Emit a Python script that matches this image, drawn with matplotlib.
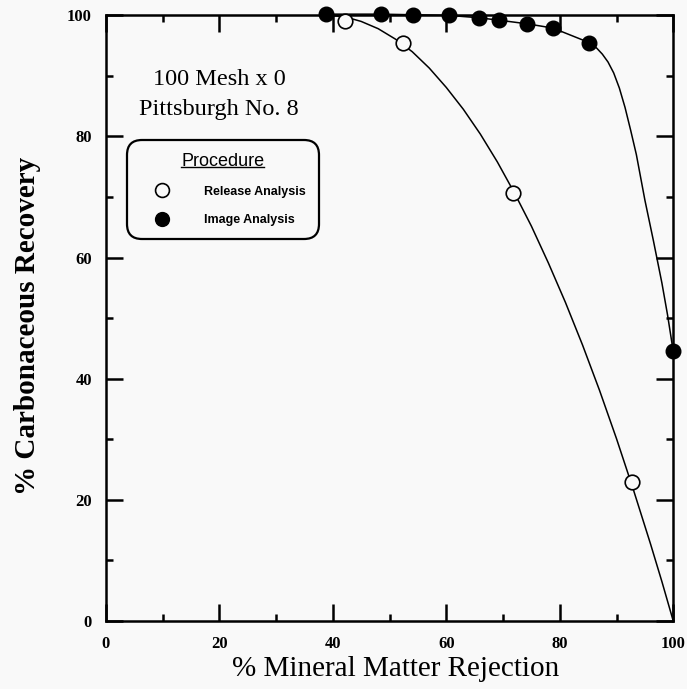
import matplotlib.pyplot as plt
from matplotlib.ticker import MultipleLocator

# measured points
release_x = [42.2, 52.4, 71.8, 92.8]
release_y = [99.1, 95.4, 70.6, 22.9]
image_x = [38.8, 48.5, 54.1, 60.4, 65.8, 69.3, 74.3, 78.8, 85.2, 100.0]
image_y = [100.2, 100.2, 100.1, 100.0, 99.6, 99.2, 98.6, 97.9, 95.5, 44.5]

# fitted curves through the data
release_curve_x = [39, 42, 45, 48, 51, 54, 57, 60, 63, 66, 69, 72, 75, 78,
                   81, 84, 87, 90, 93, 96, 98, 100]
release_curve_y = [100.0, 99.8, 99.0, 97.8, 96.1, 94.0, 91.3, 88.1, 84.5,
                   80.4, 75.8, 70.7, 65.2, 59.1, 52.6, 45.6, 38.1, 30.1,
                   21.6, 12.7, 6.5, 0.0]
image_curve_x = [38.8, 48.5, 54.1, 60.4, 65.8, 69.3, 74.3, 78.8, 85.2, 86.5,
                 87.5, 88.5, 89.5, 90.5, 91.5, 92.5, 93.5, 95.0, 96.5, 98.0,
                 99.0, 100.0]
image_curve_y = [100.2, 100.2, 100.1, 100.0, 99.6, 99.2, 98.6, 97.9, 95.5, 94.6,
                 93.6, 92.3, 90.5, 88.0, 84.8, 81.0, 77.0, 69.5, 62.8, 55.8,
                 50.5, 44.5]

x_ticks = [0, 20, 40, 60, 80, 100]
y_ticks = [0, 20, 40, 60, 80, 100]

serif = 'Liberation Serif'
sans = 'Liberation Sans'
bg = '#f9f9f9'

fig = plt.figure(figsize=(6.87, 6.89), dpi=100, facecolor=bg)
ax = fig.add_axes([0.154, 0.0987, 0.826, 0.879])
ax.set_facecolor(bg)

ax.plot(release_curve_x, release_curve_y, color='black', lw=1.1, clip_on=False)
ax.plot(image_curve_x, image_curve_y, color='black', lw=1.1, clip_on=False)
ax.plot(release_x, release_y, ls='none', marker='o', ms=10.5, mfc=bg,
        mec='black', mew=1.2, clip_on=False, zorder=5, label='Release Analysis')
ax.plot(image_x, image_y, ls='none', marker='o', ms=10.5, mfc='black',
        mec='black', clip_on=False, zorder=5, label='Image Analysis')

ax.set_xlim(0, 100)
ax.set_ylim(0, 100)
ax.set_xticks(x_ticks)
ax.set_yticks(y_ticks)
ax.xaxis.set_minor_locator(MultipleLocator(10))
ax.yaxis.set_minor_locator(MultipleLocator(10))
ax.tick_params(which='both', direction='in', top=True, right=True, width=1.8)
ax.tick_params(which='major', length=12)
ax.tick_params(which='minor', length=5)
ax.tick_params(axis='x', pad=11)
ax.tick_params(axis='y', pad=10)
for lab in ax.get_xticklabels() + ax.get_yticklabels():
    lab.set_fontfamily(serif)
    lab.set_fontweight('bold')
    lab.set_fontsize(12)
for sp in ax.spines.values():
    sp.set_linewidth(1.8)

ax.set_xlabel('% Mineral Matter Rejection', fontfamily=serif, fontsize=21)
ax.xaxis.set_label_coords(0.51, -0.079, transform=ax.transAxes)
ax.xaxis.label.set_va('center')
ax.set_ylabel('% Carbonaceous Recovery', fontfamily=serif, fontsize=21,
              fontweight='bold')
ax.yaxis.set_label_coords(-0.138, 0.487, transform=ax.transAxes)
ax.yaxis.label.set_va('center')

ax.text(0.2, 0.8845, '100 Mesh x 0', transform=ax.transAxes, ha='center',
        va='baseline', fontfamily=serif, fontsize=17.5)
ax.text(0.2, 0.835, 'Pittsburgh No. 8', transform=ax.transAxes, ha='center',
        va='baseline', fontfamily=serif, fontsize=17.5)

leg = ax.legend(loc='upper left', bbox_to_anchor=(0.037, 0.794), title='Procedure',
                prop={'family': sans, 'weight': 'bold', 'size': 9},
                title_fontproperties={'family': sans, 'size': 13},
                frameon=True, fancybox=True, framealpha=1, facecolor=bg,
                edgecolor='black', borderpad=1.0, labelspacing=1.3,
                handletextpad=1.5, handlelength=3.7, markerscale=0.95,
                borderaxespad=0)
leg.get_frame().set_linewidth(1.6)
leg.get_frame().set_boxstyle('round,pad=0,rounding_size=1.2')

# underline the legend title
fig.canvas.draw()
tb = leg.get_title().get_window_extent()
inv = ax.transAxes.inverted()
(x0, y0), (x1, _) = inv.transform([(tb.x0, tb.y0), (tb.x1, tb.y1)])
ax.plot([x0, x1], [y0 + 0.004, y0 + 0.004], transform=ax.transAxes,
        color='black', lw=1.0, clip_on=False, zorder=10)

fig.savefig('out.png', dpi=100, facecolor=fig.get_facecolor())
